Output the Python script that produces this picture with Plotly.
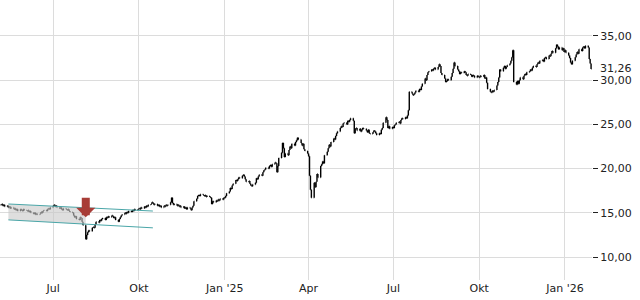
import pandas as pd
import plotly.graph_objects as go

# Daily closing prices, May 2024 .. Jan 2026, one per business day
closes = [
    # May 2024
    15.9, 16.0, 15.8, 15.9, 15.7, 15.8, 15.6, 15.7, 15.5, 15.6, 15.4, 15.5, 15.3, 15.4, 15.2, 15.4, 15.3, 15.2, 15.4, 15.3,
    # Jun 2024
    15.2, 15.3, 15.1, 15.2, 15.0, 14.9, 15.0, 14.8, 14.9, 14.8, 14.9, 15.1, 15.0, 15.2, 15.3, 15.2, 15.4, 15.5, 15.4, 15.6,
    # Jul 2024
    15.8, 15.9, 15.7, 15.8, 15.6, 15.5, 15.6, 15.4, 15.3, 15.5, 15.4, 15.3, 15.4, 15.2, 15.1, 15.0, 14.7, 14.5, 14.6, 14.3, 14.2, 14.5, 14.4,
    # Aug 2024
    14.0, 13.6, 12.0, 12.5, 12.8, 13.0, 12.9, 13.3, 13.4, 13.3, 13.7, 14.0, 13.9, 14.2, 14.1, 14.3, 14.4, 14.2, 14.5, 14.4, 14.6, 14.5,
    # Sep 2024
    14.7, 14.6, 14.4, 14.5, 14.2, 14.0, 14.3, 14.5, 14.7, 14.8, 15.0, 14.9, 15.1, 15.0, 15.2, 15.1, 15.3, 15.2, 15.4, 15.3, 15.4,
    # Oct 2024
    15.5, 15.4, 15.6, 15.5, 15.7, 15.6, 15.8, 15.7, 15.9, 16.0, 16.2, 16.1, 15.9, 16.0, 15.8, 15.9, 15.7, 15.8, 15.6, 15.8, 15.7, 15.9, 15.8,
    # Nov 2024
    15.9, 16.2, 16.7, 16.1, 15.9, 16.0, 15.8, 15.9, 15.7, 15.8, 15.6, 15.7, 15.5, 15.6, 15.4, 15.6, 15.5, 15.3, 15.6, 15.8, 16.3,
    # Dec 2024
    16.6, 16.9, 17.0, 16.9, 17.1, 17.0, 16.9, 17.0, 16.8, 16.9, 16.8, 16.7, 16.0, 16.3, 16.2, 16.4, 16.3, 16.5, 16.4, 16.6, 16.5, 16.7,
    # Jan 2025
    16.7, 16.9, 17.2, 17.4, 17.8, 17.7, 18.1, 18.3, 18.7, 18.6, 18.8, 19.0, 18.9, 19.2, 19.3, 19.1, 18.8, 18.5, 18.6, 18.3, 18.1, 18.0, 18.2,
    # Feb 2025
    18.4, 18.9, 18.8, 19.1, 19.3, 19.2, 19.6, 19.8, 19.9, 20.1, 20.0, 20.3, 20.4, 20.2, 20.5, 20.7, 20.6, 19.6, 20.3, 21.2,
    # Mar 2025
    21.8, 22.9, 22.3, 21.3, 21.7, 21.5, 22.1, 22.5, 22.3, 22.8, 22.6, 23.0, 23.2, 23.5, 23.3, 22.9, 22.6, 22.8, 22.2, 22.0, 21.7,
    # Apr 2025
    21.4, 19.2, 17.6, 16.7, 18.4, 17.9, 18.5, 19.4, 19.0, 20.3, 20.5, 20.8, 20.6, 21.5, 21.9, 22.3, 22.7, 22.5, 23.0, 23.4, 23.3, 23.7,
    # May 2025
    24.0, 24.2, 24.6, 24.8, 24.7, 25.1, 25.2, 25.0, 25.4, 25.3, 25.5, 25.7, 25.4, 24.0, 24.5, 24.6, 24.3, 24.5, 24.2, 24.4, 24.6, 24.5,
    # Jun 2025
    24.3, 24.1, 24.4, 24.0, 23.9, 24.1, 24.3, 24.2, 24.0, 23.8, 24.0, 23.9, 24.4, 24.6, 25.2, 25.8, 25.5, 24.6, 24.8, 24.5, 24.7,
    # Jul 2025
    24.6, 24.9, 25.0, 25.2, 25.3, 25.1, 25.5, 25.7, 25.6, 25.8, 25.7, 26.0, 26.6, 28.7, 28.5, 28.3, 28.4, 28.6, 28.8, 28.7, 29.0, 28.9, 29.3,
    # Aug 2025
    29.6, 30.2, 30.0, 30.6, 30.9, 31.0, 31.2, 31.1, 31.3, 31.4, 31.2, 31.5, 31.8, 31.6, 30.8, 30.6, 30.2, 29.8, 29.9, 30.1, 30.0,
    # Sep 2025
    30.4, 30.8, 31.3, 32.0, 31.6, 31.2, 31.0, 30.7, 30.9, 30.8, 31.0, 30.9, 30.6, 30.5, 30.7, 30.6, 30.4, 30.6, 30.5, 30.3, 30.5, 30.4,
    # Oct 2025
    30.3, 30.5, 30.4, 30.6, 30.2, 30.3, 29.7, 29.0, 28.7, 28.6, 28.8, 28.7, 28.9, 29.4, 29.8, 30.3, 31.2, 31.0, 31.4, 31.6, 31.3, 31.5, 31.7,
    # Nov 2025
    31.9, 32.2, 32.6, 33.4, 29.8, 29.5, 29.9, 29.6, 30.0, 30.3, 30.1, 30.5, 30.7, 30.6, 30.9, 31.0, 31.2, 31.1, 31.4, 31.6,
    # Dec 2025
    31.5, 31.8, 32.0, 31.9, 32.2, 32.3, 32.1, 32.5, 32.6, 32.4, 32.8, 32.7, 33.0, 33.3, 33.1, 33.6, 34.0, 33.8, 33.5, 33.7, 33.4, 33.6, 33.2,
    # Jan 2026
    33.4, 33.1, 32.8, 32.5, 32.0, 31.8, 32.2, 32.6, 32.9, 33.2, 33.0, 33.5, 33.3, 33.7, 33.8, 33.6, 33.9, 33.7, 32.4, 31.9, 31.26,
]
start_date = "2024-05-06"
last_price = 31.26

# Trend channel (dates and values at its ends), and where the grey fill stops
channel_dates = ["2024-05-14", "2024-10-16"]
channel_upper = [16.0, 15.2]
channel_lower = [14.2, 13.3]
fill_end = "2024-08-05"

# Sell signal arrow
signal_date = "2024-08-05"
signal_price = 14.5

# Axis ticks
x_tickvals = ["2024-07-01", "2024-10-01", "2025-01-01", "2025-04-01", "2025-07-01", "2025-10-01", "2026-01-01"]
x_ticktext = ["Jul", "Okt", "Jan '25", "Apr", "Jul", "Okt", "Jan '26"]
y_tickvals = [10, 15, 20, 25, 30, 35]

dates = pd.bdate_range(start=start_date, periods=len(closes))
opens = [closes[0]] + closes[:-1]
highs = [max(o, c) for o, c in zip(opens, closes)]
lows = [min(o, c) for o, c in zip(opens, closes)]

# channel values at fill end (on the lines)
d0, d1, df = pd.Timestamp(channel_dates[0]), pd.Timestamp(channel_dates[1]), pd.Timestamp(fill_end)
t = (df - d0) / (d1 - d0)
up_f = channel_upper[0] + t * (channel_upper[1] - channel_upper[0])
lo_f = channel_lower[0] + t * (channel_lower[1] - channel_lower[0])

fig = go.Figure()
fig.add_trace(go.Scatter(
    x=[channel_dates[0], fill_end, fill_end, channel_dates[0], channel_dates[0]],
    y=[channel_upper[0], up_f, lo_f, channel_lower[0], channel_upper[0]],
    fill="toself", fillcolor="rgba(200,200,200,0.6)", line=dict(width=0),
    mode="lines", hoverinfo="skip", showlegend=False))
fig.add_trace(go.Scatter(x=channel_dates, y=channel_upper, mode="lines",
                         line=dict(color="#4aa6a8", width=1), showlegend=False))
fig.add_trace(go.Scatter(x=channel_dates, y=channel_lower, mode="lines",
                         line=dict(color="#4aa6a8", width=1), showlegend=False))
fig.add_trace(go.Ohlc(
    x=dates, open=opens, high=highs, low=lows, close=closes,
    increasing=dict(line=dict(color="black", width=1.4)),
    decreasing=dict(line=dict(color="black", width=1.4)),
    tickwidth=0.45, showlegend=False))

fig.add_annotation(x=signal_date, y=signal_price, ax=0, ay=-21, text="",
                   showarrow=True, arrowhead=1, arrowwidth=8, arrowsize=0.4,
                   arrowcolor="#a83d37", standoff=0)
fig.add_annotation(x=1, xref="paper", y=last_price, yref="y", text=f"{last_price:.2f}".replace(".", ","),
                   showarrow=False, xanchor="left", xshift=7, yshift=1, bgcolor="white", borderpad=0,
                   font=dict(family="DejaVu Sans", size=11, color="#222"))

fig.update_layout(
    width=640, height=300, margin=dict(l=0, r=48, t=0, b=20),
    paper_bgcolor="white", plot_bgcolor="white", separators=",.",
    font=dict(family="DejaVu Sans", size=11, color="#222"),
    showlegend=False,
    xaxis=dict(type="date", range=["2024-05-05", "2026-01-30"], tickvals=x_tickvals, ticktext=x_ticktext,
               showgrid=True, gridcolor="#dcdcdc", gridwidth=1, zeroline=False, showline=False,
               ticks="", rangeslider=dict(visible=False), tickfont=dict(size=11)),
    yaxis=dict(side="right", range=[7.4, 39.07], tickvals=y_tickvals, tickformat=".2f",
               showgrid=True, gridcolor="#dcdcdc", gridwidth=1, zeroline=False, showline=False,
               ticks="outside", ticklen=5, tickcolor="#222", tickfont=dict(size=11)),
)
fig.write_html("out.html")
